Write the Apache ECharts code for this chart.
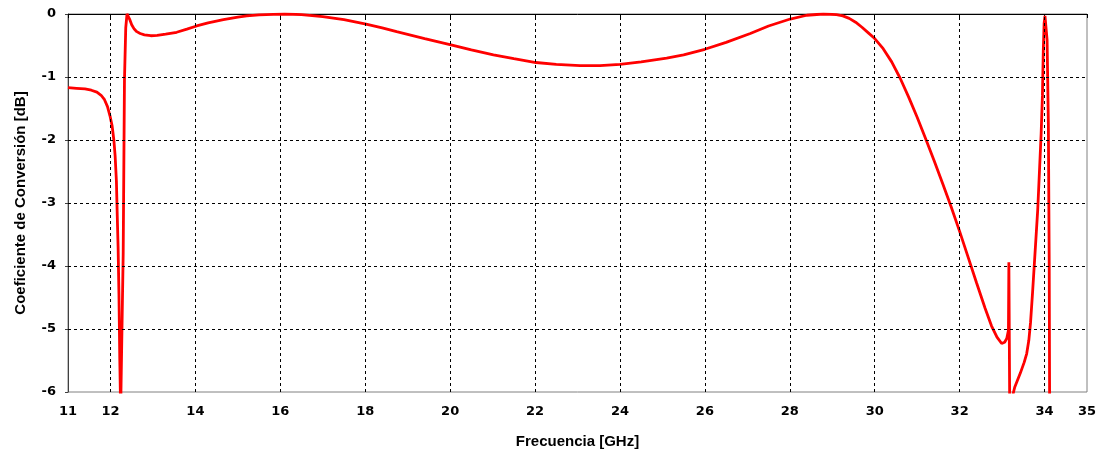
<!DOCTYPE html>
<html>
<head>
<meta charset="utf-8">
<script src="https://cdn.jsdelivr.net/npm/echarts@6/dist/echarts.min.js"></script>
<style>
html,body{margin:0;padding:0;background:#fff;}
#chart{width:1101px;height:455px;}
</style>
</head>
<body>
<div id="chart"></div>
<script>
// Frequency [GHz]
const freq = [
  11.00, 11.20, 11.40, 11.55, 11.68, 11.78, 11.86, 11.93, 11.99, 12.04,
  12.08, 12.11, 12.14, 12.16, 12.18, 12.20, 12.22, 12.24, 12.28, 12.30,
  12.33, 12.36, 12.39, 12.45, 12.50, 12.56, 12.62, 12.70, 12.80, 12.95,
  13.10, 13.30, 13.56, 13.80, 14.03, 14.30, 14.66, 15.00, 15.21, 15.50,
  15.84, 16.10, 16.50, 17.00, 17.50, 18.02, 18.40, 18.74, 19.40, 20.02,
  20.50, 21.02, 21.50, 22.02, 22.50, 23.06, 23.53, 24.00, 24.50, 25.10,
  25.50, 26.00, 26.50, 27.07, 27.50, 28.01, 28.40, 28.79, 29.10, 29.25,
  29.40, 29.55, 29.70, 29.85, 30.00, 30.20, 30.40, 30.60, 30.80, 31.00,
  31.20, 31.40, 31.60, 31.80, 32.00, 32.20, 32.40, 32.60, 32.75, 32.88,
  32.99, 33.06, 33.11, 33.15, 33.16, 33.18, 33.22, 33.27, 33.30, 33.43,
  33.52, 33.58, 33.63, 33.67, 33.72, 33.78, 33.84, 33.88, 33.92, 33.95,
  33.97, 33.99, 34.01, 34.03, 34.06, 34.09, 34.11, 34.12
];
// Conversion coefficient [dB]
const gain = [
  -1.17, -1.18, -1.19, -1.21, -1.24, -1.29, -1.36, -1.47, -1.62, -1.78,
  -2.00, -2.25, -2.65, -3.20, -3.70, -4.45, -5.50, -6.30, -6.30, -3.80,
  -1.05, -0.22, 0.00, -0.08, -0.17, -0.24, -0.28, -0.31, -0.33, -0.345,
  -0.34, -0.32, -0.29, -0.24, -0.19, -0.14, -0.09, -0.05, -0.03, -0.015,
  -0.005, 0.00, -0.01, -0.04, -0.09, -0.16, -0.22, -0.28, -0.39, -0.49,
  -0.57, -0.65, -0.71, -0.77, -0.80, -0.82, -0.82, -0.80, -0.76, -0.70,
  -0.65, -0.56, -0.45, -0.31, -0.19, -0.08, -0.02, 0.00, -0.01, -0.03,
  -0.07, -0.13, -0.21, -0.30, -0.39, -0.55, -0.76, -1.02, -1.32, -1.64,
  -1.98, -2.33, -2.69, -3.06, -3.45, -3.86, -4.27, -4.67, -4.95, -5.13,
  -5.23, -5.21, -5.15, -5.02, -3.94, -6.30, -6.30, -6.00, -5.92, -5.70,
  -5.53, -5.39, -5.18, -4.90, -4.40, -3.75, -3.10, -2.50, -1.90, -1.30,
  -0.60, -0.15, -0.03, -0.05, -0.41, -1.74, -3.96, -6.30
];
const xTickValues = [11, 12, 14, 16, 18, 20, 22, 24, 26, 28, 30, 32, 34, 35];
const xGridValues = [12, 14, 16, 18, 20, 22, 24, 26, 28, 30, 32, 34];
const yGridValues = [-1, -2, -3, -4, -5];

const chart = echarts.init(document.getElementById('chart'), null, {renderer: 'canvas'});
const labelFont = {fontFamily: 'DejaVu Sans', fontWeight: 'bold', fontSize: 13, color: '#000'};
const nameFont = {fontFamily: 'Liberation Sans', fontWeight: 'bold', fontSize: 15, color: '#000'};

const gridLines = xGridValues.map(v => ({xAxis: v})).concat(yGridValues.map(v => ({yAxis: v})));

chart.setOption({
  animation: false,
  backgroundColor: '#fff',
  grid: {left: 68, right: 14, top: 14, bottom: 63, show: true, borderColor: '#808080', borderWidth: 1, backgroundColor: 'transparent'},
  xAxis: {
    type: 'value', min: 11, max: 35, interval: 1,
    name: 'Frecuencia [GHz]', nameLocation: 'middle', nameGap: 42,
    nameTextStyle: nameFont,
    axisLine: {show: true, lineStyle: {color: '#000', width: 1}},
    axisTick: {show: true, customValues: xTickValues, length: 4, lineStyle: {color: '#000'}},
    axisLabel: Object.assign({customValues: xTickValues, margin: 13}, labelFont),
    splitLine: {show: false}
  },
  yAxis: {
    type: 'value', min: -6, max: 0, interval: 1,
    name: 'Coeficiente de Conversión [dB]', nameLocation: 'middle', nameGap: 40,
    nameTextStyle: nameFont,
    axisLine: {show: true, lineStyle: {color: '#404040', width: 1}},
    axisTick: {show: true, length: 3, lineStyle: {color: '#404040'}},
    axisLabel: Object.assign({margin: 12}, labelFont),
    splitLine: {show: false}
  },
  series: [
    {
      type: 'line', data: [], z: 1, silent: true,
      markLine: {
        silent: true, symbol: ['none', 'none'], label: {show: false},
        lineStyle: {color: '#000', type: [3, 3], width: 1},
        emphasis: {disabled: true},
        data: gridLines
      }
    },
    {
      type: 'line', z: 3,
      data: freq.map((f, i) => [f, gain[i]]),
      showSymbol: false, smooth: false, clip: true,
      lineStyle: {color: '#ff0000', width: 2.8},
      itemStyle: {color: '#ff0000'}
    }
  ]
});
</script>
</body>
</html>
